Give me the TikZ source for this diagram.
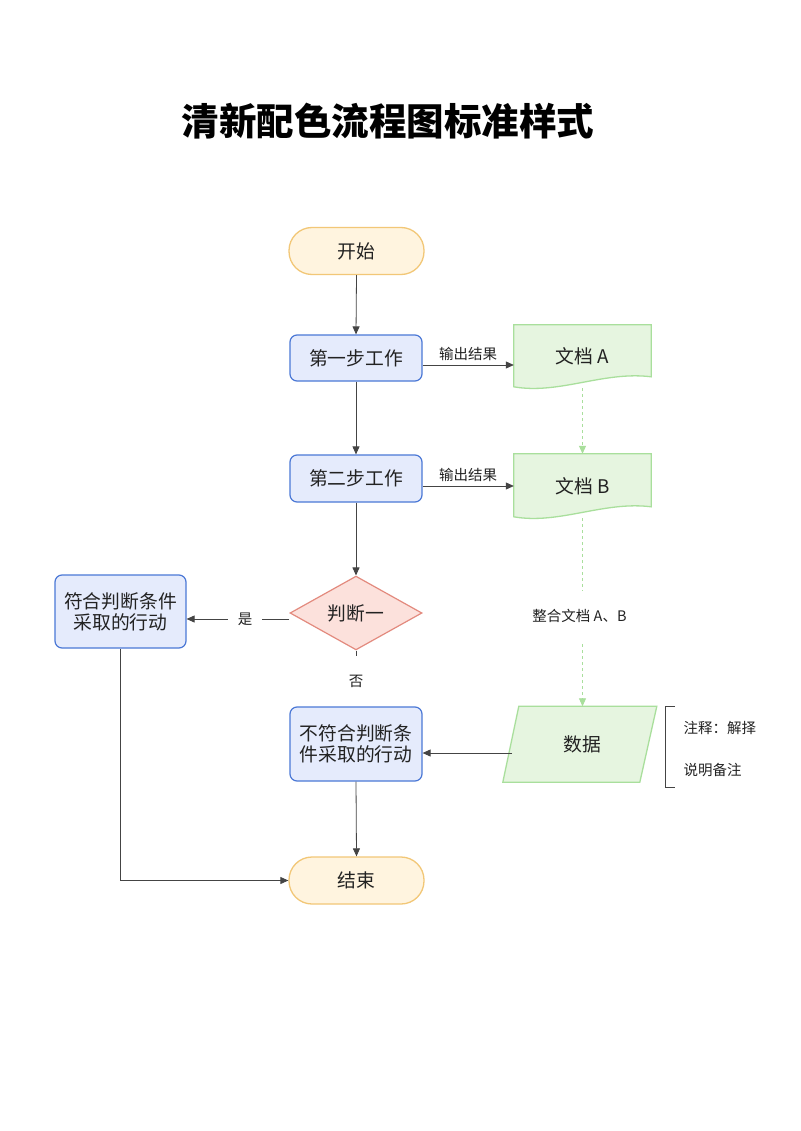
\documentclass[tikz,border=0pt]{standalone}
\usepackage{fontspec}
\setmainfont{Noto Sans CJK SC}
\usetikzlibrary{shapes.geometric,arrows.meta,calc}
\definecolor{stfill}{HTML}{FFF4DF}
\definecolor{stdraw}{HTML}{F2C777}
\definecolor{bxfill}{HTML}{E5EBFC}
\definecolor{bxdraw}{HTML}{4B78D6}
\definecolor{gnfill}{HTML}{E6F5E0}
\definecolor{gndraw}{HTML}{A9DF9C}
\definecolor{dmfill}{HTML}{FCE1DC}
\definecolor{dmdraw}{HTML}{E38A7E}
\definecolor{ln}{HTML}{444444}
\definecolor{tx}{HTML}{222222}
\tikzset{
  nodefont/.style={font=\fontsize{18.8}{21}\selectfont, text=tx},
  terminal/.style={nodefont, draw=stdraw, fill=stfill, line width=1.3pt, rounded corners=23pt, minimum width=135pt, minimum height=47pt, inner sep=0pt},
  procbox/.style={nodefont, draw=bxdraw, fill=bxfill, line width=1.2pt, rounded corners=7pt, minimum width=132pt, inner sep=0pt, align=center},
  decision/.style={nodefont, shape=diamond, draw=dmdraw, fill=dmfill, line width=1.2pt, minimum width=132pt, minimum height=70pt, inner sep=0pt},
  ghost/.style={nodefont, inner sep=0pt},
  greenshape/.style={draw=gndraw, fill=gnfill, line width=1.3pt},
  arr/.style={draw=ln, line width=0.8pt, -{Triangle[length=8pt,width=7pt]}},
  plain/.style={draw=ln, line width=0.8pt},
  garr/.style={draw=gndraw, line width=0.8pt, dash pattern=on 3pt off 3pt, -{Triangle[length=8pt,width=7pt,fill=gndraw]}},
  lbl/.style={font=\fontsize{14.5}{17}\selectfont, text=tx},
  wlbl/.style={lbl, fill=white, inner sep=2pt},
}
\begin{document}
\begin{tikzpicture}[x=1pt,y=-1pt]
\useasboundingbox[fill=white] (0,0) rectangle (800,1131);
\node[font=\fontsize{37.5}{40}\selectfont\bfseries, text=black] (title) at (388,121) {清新配色流程图标准样式};

\node[terminal] (start) at (356.5,251) {开始};
\node[procbox, minimum height=46pt] (s1) at (356,358) {第一步工作};
\node[procbox, minimum height=47pt] (s2) at (356,478.5) {第二步工作};
\node[decision] (dia) at (356,613) {判断一};
\node[procbox, minimum width=131pt, minimum height=73pt] (yesbox) at (120.5,611.5) {符合判断条件\\采取的行动};
\node[procbox, minimum height=74pt] (nobox) at (356,744) {不符合判断条\\件采取的行动};
\node[terminal] (end) at (356.5,880.5) {结束};

% document shapes
\node[ghost, minimum width=137pt, minimum height=63pt] (docA) at (582.5,356.5) {};
\path[greenshape] (docA.north west) -- (docA.north east) -- ($(docA.north east)+(0,52)$)
  .. controls ($(docA.north west)+(90,46)$) and ($(docA.north west)+(45,70)$) .. ($(docA.north west)+(0,62)$) -- cycle;
\node[nodefont] at (docA.center) {文档 A};

\node[ghost, minimum width=137pt, minimum height=64pt] (docB) at (582.5,486) {};
\path[greenshape] (docB.north west) -- (docB.north east) -- ($(docB.north east)+(0,53)$)
  .. controls ($(docB.north west)+(90,47)$) and ($(docB.north west)+(45,71)$) .. ($(docB.north west)+(0,63)$) -- cycle;
\node[nodefont] at (docB.center) {文档 B};

% data parallelogram
\node[ghost, minimum width=161pt, minimum height=76pt] (data) at (582.5,744.5) {};
\path[greenshape] ($(data.north west)+(17,0)$) -- ($(data.north west)+(155,0)$) -- ($(data.north west)+(138,76)$) -- ($(data.north west)+(1,76)$) -- cycle;
\node[nodefont] at (data.center) {数据};

% annotation
\coordinate (brT) at (675,706.5);
\coordinate (brB) at (675,787);
\draw[draw=ln, line width=0.8pt] (brT) -- ++(-10,0) -- ($(brB)+(-10,0)$) -- (brB);
\node[lbl, anchor=west] (note1) at (680,728) {注释：解择};
\node[lbl, anchor=west] (note2) at (680,770) {说明备注};

% connectors
\draw[arr] (start.south) -- (s1.north);
\draw[arr] (s1.south) -- (s2.north);
\draw[arr] (s2.south) -- (dia.north);
\draw[arr] ($(s1.east)+(0,7)$) -- node[lbl, above=1pt] {输出结果} ($(docA.west)+(0,8.5)$);
\draw[arr] ($(s2.east)+(0,7.5)$) -- node[lbl, above=1pt] {输出结果} ($(docB.west)+(0,0)$);
\draw[garr] (docA.south) -- (docB.north);
\draw[garr] (docB.south) -- node[wlbl, minimum height=50pt, xshift=-3pt, yshift=-4pt] {整合文档 A、B} (data.north);
\draw[arr] ($(dia.west)+(0,6)$) -- node[wlbl, minimum width=34pt, xshift=7pt] {是} ($(yesbox.east)+(0,7.5)$);
\draw[plain] (dia.south) -- node[wlbl, minimum height=50pt, yshift=-3pt] {否} (nobox.north);
\draw[arr] ($(data.center)+(-70.5,8.5)$) -- ($(nobox.east)+(0,9)$);
\draw[arr] (nobox.south) -- (end.north);
\draw[arr] (yesbox.south) |- (end.west);
\end{tikzpicture}
\end{document}
